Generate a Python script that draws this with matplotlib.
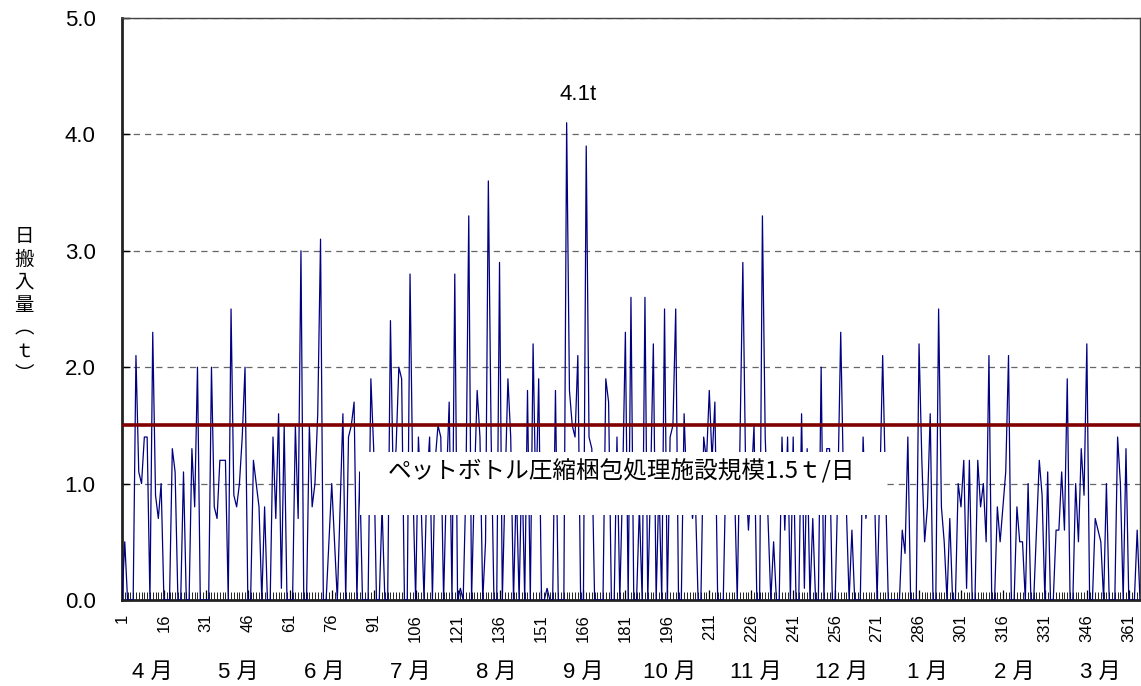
import numpy as np
import matplotlib.pyplot as plt
from matplotlib.patches import Rectangle
from matplotlib.ticker import MultipleLocator, FixedLocator

plt.rcParams['font.family'] = ['Liberation Sans', 'Noto Sans CJK JP', 'DejaVu Sans']

# daily intake (t), April -> March
apr = [0, 0.5, 0, 0, 0, 2.1, 1.1, 1.0, 1.4, 1.4, 0, 2.3, 0.9, 0.7, 1.0, 0, 0, 0, 1.3, 1.1,
       0, 0, 1.1, 0, 0, 1.3, 0.8, 2.0, 0, 0]
may = [0, 0, 2.0, 0.8, 0.7, 1.2, 1.2, 1.2, 0, 2.5, 0.9, 0.8, 1.0, 1.4, 2.0, 0, 0, 1.2, 1.0, 0.8,
       0, 0.8, 0, 0, 1.4, 0.7, 1.6, 0.1, 1.5, 0, 0]
jun = [0, 1.5, 0.7, 3.0, 0, 0, 1.5, 0.8, 1.0, 1.6, 3.1, 0, 0, 0.5, 1.0, 0.5, 0, 0.8, 1.6, 0,
       1.4, 1.5, 1.7, 0, 1.1, 0, 0, 0, 1.9, 1.3]
jul = [0, 0, 0.8, 0, 0, 2.4, 1.0, 1.3, 2.0, 1.9, 0, 0, 2.8, 1.0, 0, 1.4, 0.8, 0, 1.0, 1.4,
       0, 1.2, 1.5, 1.4, 0, 1.0, 1.7, 0, 2.8, 0, 0.1]
aug = [0, 1.0, 3.3, 0, 1.0, 1.8, 1.4, 0, 0.5, 3.6, 1.4, 0, 0, 2.9, 0, 1.0, 1.9, 1.4, 0, 1.0,
       0, 1.2, 0, 1.8, 0, 2.2, 0.8, 1.9, 0, 0, 0.1]
sep = [0, 0, 1.8, 0, 0, 0, 4.1, 1.8, 1.5, 1.4, 2.1, 0, 0, 3.9, 1.4, 1.3, 0, 0, 0, 0,
       1.9, 1.7, 0, 0, 1.4, 0, 1.0, 2.3, 0, 2.6]
oct_ = [0, 0, 0.8, 0, 2.6, 0, 1.0, 2.2, 0, 1.0, 0, 2.5, 0, 1.4, 1.5, 2.5, 0, 0, 1.6, 0.9,
        1.0, 0.7, 0.9, 0, 0, 1.4, 1.2, 1.8, 1.2, 1.7, 0]
nov = [0, 0, 1.2, 0.8, 1.2, 1.0, 0, 1.4, 2.9, 1.1, 0.6, 1.0, 1.5, 0, 0, 3.3, 1.4, 0.7, 0, 0.5,
       0, 0, 1.4, 0.6, 1.4, 0, 1.4, 0, 0, 1.6]
dec = [0.1, 1.3, 0, 0.7, 0, 0, 2.0, 0, 1.3, 1.3, 0, 0, 1.0, 2.3, 1.0, 0.8, 0, 0.6, 0, 0,
       0, 1.4, 0.7, 0.9, 1.0, 1.0, 0, 1.0, 2.1, 1.0, 0]
jan = [0, 0, 0, 0, 0.6, 0.4, 1.4, 0, 0, 0, 2.2, 1.2, 0.5, 0.8, 1.6, 0, 0, 2.5, 0.8, 0.5,
       0, 0.7, 0, 0, 1.0, 0.8, 1.2, 0.1, 1.2, 0, 0]
feb = [1.2, 0.8, 1.0, 0.5, 2.1, 0, 0, 0.8, 0.5, 0.8, 1.1, 2.1, 0, 0, 0.8, 0.5, 0.5, 0, 1.0, 0,
       0, 0.6, 1.2, 0.9, 0, 1.1, 0, 0]
mar = [0.6, 0.6, 1.1, 0.6, 1.9, 0, 0, 1.0, 0.5, 1.3, 0.9, 2.2, 0, 0, 0.7, 0.6, 0.5, 0, 1.0, 0,
       0, 0, 1.4, 1.0, 0, 1.3, 0, 0, 0, 0.6, 0]

daily = apr + may + jun + jul + aug + sep + oct_ + nov + dec + jan + feb + mar
days = np.arange(1, len(daily) + 1)

capacity = 1.5
months = ['4 月', '5 月', '6 月', '7 月', '8 月', '9 月', '10 月', '11 月', '12 月', '1 月', '2 月', '3 月']
peak_day = int(np.argmax(daily)) + 1
peak_val = max(daily)

fig = plt.figure(figsize=(11.41, 6.86), dpi=100)
ax = fig.add_axes([0.1069, 0.1254, 0.8922, 0.8484])

ax.plot(days, daily, color='#000080', lw=0.9, zorder=3)
ax.axhline(capacity, color='#800000', lw=2.6, zorder=5)

ax.set_xlim(1, 365)
ax.set_ylim(0, 5)
ax.yaxis.set_major_locator(MultipleLocator(1.0))
ax.yaxis.set_major_formatter(plt.FuncFormatter(lambda v, p: '%.1f' % v))
ax.grid(axis='y', color='#666666', lw=0.9, ls=(0, (5, 4)))
ax.set_axisbelow(True)

ax.xaxis.set_major_locator(FixedLocator(np.arange(1, 366, 15)))
ax.xaxis.set_minor_locator(MultipleLocator(1))
ax.tick_params(axis='x', which='major', direction='in', length=7, width=0.9, labelsize=12,
               labelrotation=90, pad=10)
ax.tick_params(axis='x', which='minor', direction='in', length=6, width=0.6)
ax.tick_params(axis='y', direction='in', length=6, width=1, labelsize=16, pad=19)

for s in ['left', 'bottom']:
    ax.spines[s].set_linewidth(2)
    ax.spines[s].set_color('#222222')
for s in ['top', 'right']:
    ax.spines[s].set_linewidth(1)
    ax.spines[s].set_color('#444444')

# month row under the day numbers
for i, m in enumerate(months):
    ax.text(0.0294 + i * 0.0847, -0.124, m, transform=ax.transAxes, ha='center', va='center',
            fontsize=16)

fig.text(0.021, 0.555, '日\n搬\n入\n量\n︵\nｔ\n︶', ha='center', va='center', fontsize=14,
         linespacing=1.12, family=['Noto Sans CJK JP', 'DejaVu Sans'])

ax.text(peak_day + 4, peak_val + 0.15, '%.1ft' % peak_val, ha='center', va='bottom', fontsize=16)

# white panel under the capacity label
ax.add_patch(Rectangle((0.2336, 0.146), 0.518, 0.108, transform=ax.transAxes,
                       fc='white', ec='none', zorder=6))
ax.text(0.491, 0.223, 'ペットボトル圧縮梱包処理施設規模1.5ｔ/日', transform=ax.transAxes,
        ha='center', va='center', fontsize=17, zorder=7,
        family=['Noto Sans CJK JP', 'DejaVu Sans'])

fig.savefig('out.png', dpi=100)
